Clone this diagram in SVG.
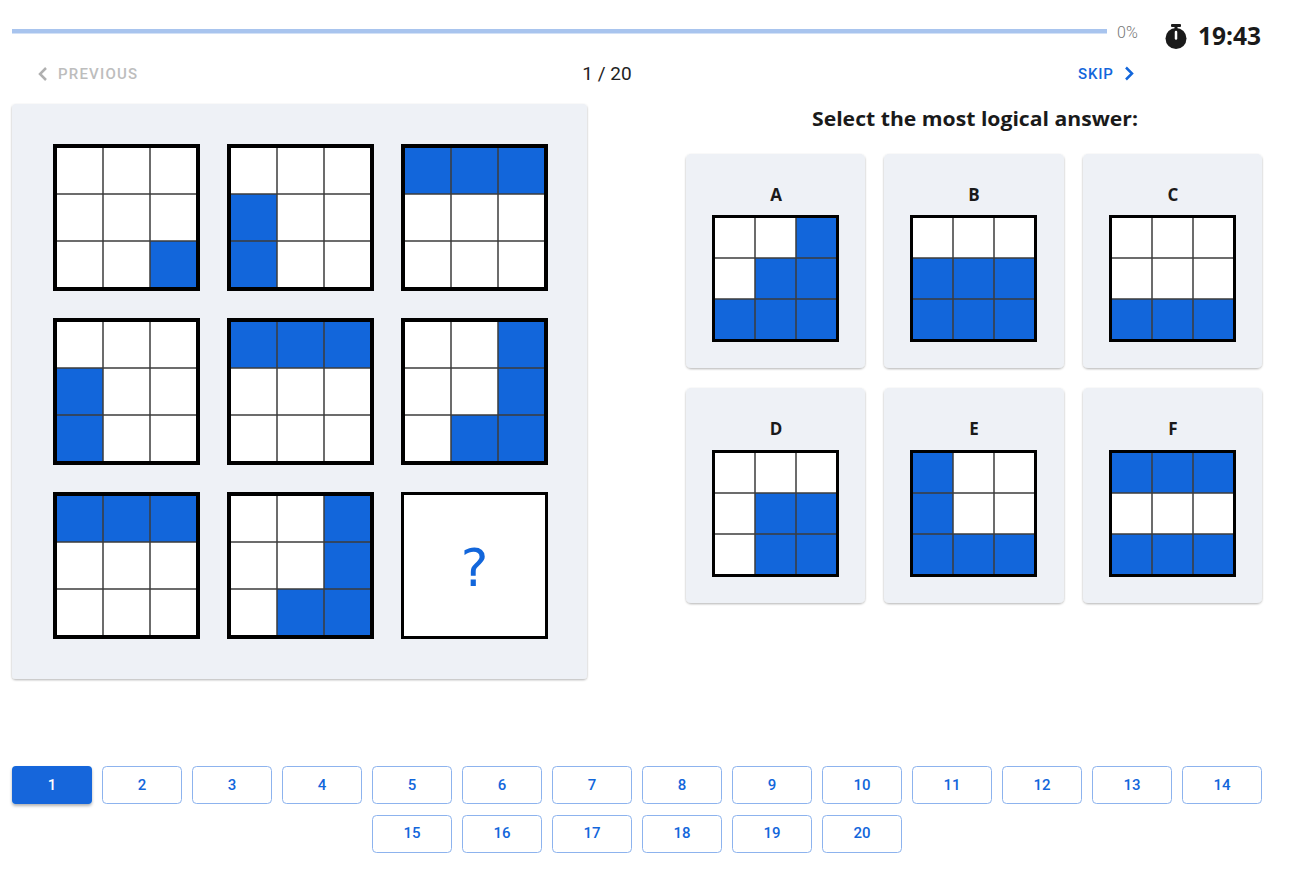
<svg xmlns="http://www.w3.org/2000/svg" xmlns:xlink="http://www.w3.org/1999/xlink" width="1289" height="883" viewBox="0 0 1289 883">
<style>
.txt{font-family:Roboto,"Liberation Sans",sans-serif}
.head{font-family:"Open Sans","Liberation Sans",sans-serif;font-weight:700;fill:#1a1a1a}
.panel{fill:#eef1f6}
.bg{fill:#ffffff}
.b{fill:#1266db}
.ln{stroke:#3c3c3c;stroke-width:1.5;fill:none}
.bd4{stroke:#000;stroke-width:4;fill:none}
.bd3{stroke:#000;stroke-width:3;fill:none}
.pg rect{fill:#fff;stroke:#8db3ee;stroke-width:1}
.pg text{font-family:Roboto,"Liberation Sans",sans-serif;font-weight:500;font-size:15px;fill:#1266db;text-anchor:middle}
.lbl{font-family:"Open Sans","Liberation Sans",sans-serif;font-weight:700;font-size:17px;fill:#1a1a1a;text-anchor:middle}
</style>
<defs>
<filter id="sh" x="-5%" y="-5%" width="110%" height="115%">
<feDropShadow dx="0" dy="1" stdDeviation="0.9" flood-color="#000" flood-opacity="0.3"/>
</filter>
<filter id="sh2" x="-10%" y="-20%" width="120%" height="160%">
<feDropShadow dx="0" dy="2" stdDeviation="1.5" flood-color="#000" flood-opacity="0.3"/>
</filter>
<g id="linesL">
<path class="ln" d="M50,3V144M97,3V144M3,50H144M3,97H144"/>
<rect class="bd4" x="2" y="2" width="143" height="143"/>
</g>
<g id="linesS">
<path class="ln" d="M43,2V125M84,2V125M2,43H125M2,84H125"/>
<rect class="bd3" x="1.5" y="1.5" width="124" height="124"/>
</g>
</defs>
<rect width="1289" height="883" fill="#ffffff"/>

<g id="header">
<rect x="12" y="29" width="1095" height="4.5" fill="#a8c4ee"/>
<text class="txt" x="1117" y="38" font-size="16" font-weight="300" fill="#777">0%</text>
<g id="timer">
<rect x="1171" y="24" width="10" height="3" rx="1" fill="#1a1a1a"/>
<rect x="1174.5" y="26" width="3" height="4" fill="#1a1a1a"/>
<circle cx="1176" cy="38.5" r="10.5" fill="#1a1a1a"/>
<path d="M1176,38.5V32" stroke="#fff" stroke-width="2.5" stroke-linecap="round"/>
</g>
<text class="head" x="1261" y="44.5" font-size="24.5" text-anchor="end">19:43</text>
<g id="prev">
<polyline points="46,68 40,74 46,80" fill="none" stroke="#b0b0b0" stroke-width="2.5"/>
<text class="txt" x="58" y="79" font-size="15" font-weight="500" letter-spacing="1.2" fill="#bdbdbd">PREVIOUS</text>
</g>
<text class="txt" x="607" y="80" font-size="19" fill="#222" text-anchor="middle">1 / 20</text>
<g id="skip">
<text class="txt" x="1078" y="79" font-size="15" font-weight="500" letter-spacing="0.8" fill="#1266db">SKIP</text>
<polyline points="1126,67.5 1132,73.5 1126,79.5" fill="none" stroke="#1266db" stroke-width="2.5"/>
</g>
</g>

<g id="puzzle">
<rect class="panel" x="12" y="104" width="575" height="575" rx="4" filter="url(#sh)"/>
<g id="m1" transform="translate(53,144)">
<rect class="bg" x="2" y="2" width="143" height="143"/>
<rect class="b" x="97" y="97" width="47" height="47"/>
<use xlink:href="#linesL"/>
</g>
<g id="m2" transform="translate(227,144)">
<rect class="bg" x="2" y="2" width="143" height="143"/>
<rect class="b" x="3" y="50" width="47" height="94"/>
<use xlink:href="#linesL"/>
</g>
<g id="m3" transform="translate(401,144)">
<rect class="bg" x="2" y="2" width="143" height="143"/>
<rect class="b" x="3" y="3" width="141" height="47"/>
<use xlink:href="#linesL"/>
</g>
<g id="m4" transform="translate(53,318)">
<rect class="bg" x="2" y="2" width="143" height="143"/>
<rect class="b" x="3" y="50" width="47" height="94"/>
<use xlink:href="#linesL"/>
</g>
<g id="m5" transform="translate(227,318)">
<rect class="bg" x="2" y="2" width="143" height="143"/>
<rect class="b" x="3" y="3" width="141" height="47"/>
<use xlink:href="#linesL"/>
</g>
<g id="m6" transform="translate(401,318)">
<rect class="bg" x="2" y="2" width="143" height="143"/>
<rect class="b" x="97" y="3" width="47" height="141"/>
<rect class="b" x="50" y="97" width="47" height="47"/>
<use xlink:href="#linesL"/>
</g>
<g id="m7" transform="translate(53,492)">
<rect class="bg" x="2" y="2" width="143" height="143"/>
<rect class="b" x="3" y="3" width="141" height="47"/>
<use xlink:href="#linesL"/>
</g>
<g id="m8" transform="translate(227,492)">
<rect class="bg" x="2" y="2" width="143" height="143"/>
<rect class="b" x="97" y="3" width="47" height="141"/>
<rect class="b" x="50" y="97" width="47" height="47"/>
<use xlink:href="#linesL"/>
</g>
<g id="m9" transform="translate(401,492)">
<rect class="bg bd3" x="1.5" y="1.5" width="144" height="144" style="fill:#fff"/>
<text x="73.5" y="94" font-family="DejaVu Sans,sans-serif" font-size="52" fill="#1266db" text-anchor="middle">?</text>
</g>
</g>

<text class="head" x="812" y="126" font-size="19" textLength="326" lengthAdjust="spacingAndGlyphs">Select the most logical answer:</text>

<g id="answers">
<g id="optA">
<rect class="panel" x="686" y="154" width="179" height="214" rx="5" filter="url(#sh)"/>
<text class="lbl" x="776" y="201">A</text>
<g transform="translate(712,215)">
<rect class="bg" x="1.5" y="1.5" width="124" height="124"/>
<rect class="b" x="84" y="2" width="41" height="41"/>
<rect class="b" x="43" y="43" width="82" height="41"/>
<rect class="b" x="2" y="84" width="123" height="41"/>
<use xlink:href="#linesS"/>
</g>
</g>
<g id="optB">
<rect class="panel" x="884" y="154" width="180" height="214" rx="5" filter="url(#sh)"/>
<text class="lbl" x="974" y="201">B</text>
<g transform="translate(910,215)">
<rect class="bg" x="1.5" y="1.5" width="124" height="124"/>
<rect class="b" x="2" y="43" width="123" height="82"/>
<use xlink:href="#linesS"/>
</g>
</g>
<g id="optC">
<rect class="panel" x="1083" y="154" width="179" height="214" rx="5" filter="url(#sh)"/>
<text class="lbl" x="1173" y="201">C</text>
<g transform="translate(1109,215)">
<rect class="bg" x="1.5" y="1.5" width="124" height="124"/>
<rect class="b" x="2" y="84" width="123" height="41"/>
<use xlink:href="#linesS"/>
</g>
</g>
<g id="optD">
<rect class="panel" x="686" y="388" width="179" height="215" rx="5" filter="url(#sh)"/>
<text class="lbl" x="776" y="435">D</text>
<g transform="translate(712,450)">
<rect class="bg" x="1.5" y="1.5" width="124" height="124"/>
<rect class="b" x="43" y="43" width="82" height="82"/>
<use xlink:href="#linesS"/>
</g>
</g>
<g id="optE">
<rect class="panel" x="884" y="388" width="180" height="215" rx="5" filter="url(#sh)"/>
<text class="lbl" x="974" y="435">E</text>
<g transform="translate(910,450)">
<rect class="bg" x="1.5" y="1.5" width="124" height="124"/>
<rect class="b" x="2" y="2" width="41" height="82"/>
<rect class="b" x="2" y="84" width="123" height="41"/>
<use xlink:href="#linesS"/>
</g>
</g>
<g id="optF">
<rect class="panel" x="1083" y="388" width="179" height="215" rx="5" filter="url(#sh)"/>
<text class="lbl" x="1173" y="435">F</text>
<g transform="translate(1109,450)">
<rect class="bg" x="1.5" y="1.5" width="124" height="124"/>
<rect class="b" x="2" y="2" width="123" height="41"/>
<rect class="b" x="2" y="84" width="123" height="41"/>
<use xlink:href="#linesS"/>
</g>
</g>
</g>

<g id="pagination" class="pg">
<g id="p1"><rect x="12" y="766" width="80" height="38" rx="4" style="fill:#1266db;stroke:none" filter="url(#sh2)"/><text x="52" y="790" style="fill:#fff">1</text></g>
<g id="p2"><rect x="102.5" y="766.5" width="79" height="37" rx="4"/><text x="142" y="790">2</text></g>
<g id="p3"><rect x="192.5" y="766.5" width="79" height="37" rx="4"/><text x="232" y="790">3</text></g>
<g id="p4"><rect x="282.5" y="766.5" width="79" height="37" rx="4"/><text x="322" y="790">4</text></g>
<g id="p5"><rect x="372.5" y="766.5" width="79" height="37" rx="4"/><text x="412" y="790">5</text></g>
<g id="p6"><rect x="462.5" y="766.5" width="79" height="37" rx="4"/><text x="502" y="790">6</text></g>
<g id="p7"><rect x="552.5" y="766.5" width="79" height="37" rx="4"/><text x="592" y="790">7</text></g>
<g id="p8"><rect x="642.5" y="766.5" width="79" height="37" rx="4"/><text x="682" y="790">8</text></g>
<g id="p9"><rect x="732.5" y="766.5" width="79" height="37" rx="4"/><text x="772" y="790">9</text></g>
<g id="p10"><rect x="822.5" y="766.5" width="79" height="37" rx="4"/><text x="862" y="790">10</text></g>
<g id="p11"><rect x="912.5" y="766.5" width="79" height="37" rx="4"/><text x="952" y="790">11</text></g>
<g id="p12"><rect x="1002.5" y="766.5" width="79" height="37" rx="4"/><text x="1042" y="790">12</text></g>
<g id="p13"><rect x="1092.5" y="766.5" width="79" height="37" rx="4"/><text x="1132" y="790">13</text></g>
<g id="p14"><rect x="1182.5" y="766.5" width="79" height="37" rx="4"/><text x="1222" y="790">14</text></g>
<g id="p15"><rect x="372.5" y="815.5" width="79" height="37" rx="4"/><text x="412" y="838">15</text></g>
<g id="p16"><rect x="462.5" y="815.5" width="79" height="37" rx="4"/><text x="502" y="838">16</text></g>
<g id="p17"><rect x="552.5" y="815.5" width="79" height="37" rx="4"/><text x="592" y="838">17</text></g>
<g id="p18"><rect x="642.5" y="815.5" width="79" height="37" rx="4"/><text x="682" y="838">18</text></g>
<g id="p19"><rect x="732.5" y="815.5" width="79" height="37" rx="4"/><text x="772" y="838">19</text></g>
<g id="p20"><rect x="822.5" y="815.5" width="79" height="37" rx="4"/><text x="862" y="838">20</text></g>
</g>
</svg>
